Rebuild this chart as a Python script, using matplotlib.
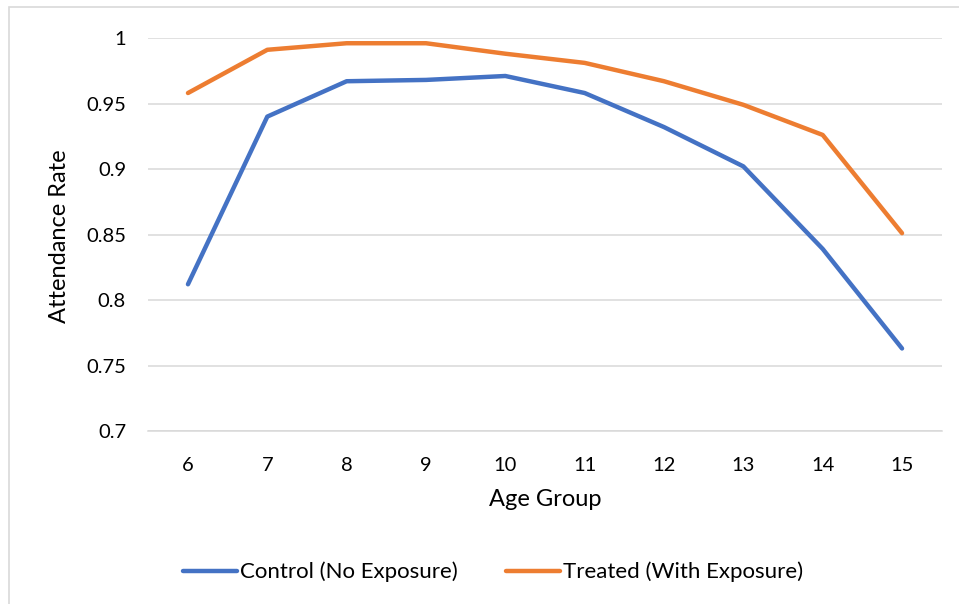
import matplotlib
matplotlib.use("Agg")
import matplotlib.pyplot as plt
from matplotlib.patches import Rectangle

# Attendance rate by age group
age_groups = [6, 7, 8, 9, 10, 11, 12, 13, 14, 15]
control = [0.812, 0.940, 0.967, 0.968, 0.971, 0.958, 0.932, 0.902, 0.839, 0.763]
treated = [0.958, 0.991, 0.996, 0.996, 0.988, 0.981, 0.967, 0.949, 0.926, 0.851]
series_names = ["Control (No Exposure)", "Treated (With Exposure)"]
y_ticks = [0.7, 0.75, 0.8, 0.85, 0.9, 0.95, 1.0]
y_tick_labels = ["0.7", "0.75", "0.8", "0.85", "0.9", "0.95", "1"]

plt.rcParams["font.family"] = ["Lato", "DejaVu Sans"]
TICK_FS = 14.5
TITLE_FS = 17
LEGEND_FS = 16

W, H = 959, 604
fig = plt.figure(figsize=(W / 100, H / 100), dpi=100)
fig.patch.set_facecolor("white")

# chart-area border
fig.patches.append(Rectangle((9 / W, -0.05), 1.2, 1 - 7 / H + 0.05,
                             transform=fig.transFigure, fill=False,
                             edgecolor="#d9d9d9", linewidth=1.2))

left, right, top, bottom = 148.3, 941.7, 38, 431
ax = fig.add_axes([left / W, 1 - bottom / H, (right - left) / W, (bottom - top) / H])

positions = list(range(len(age_groups)))
ax.plot(positions, control, color="#4472C4", lw=3.2, solid_capstyle="round",
        solid_joinstyle="round", label=series_names[0], zorder=3)
ax.plot(positions, treated, color="#ED7D31", lw=3.2, solid_capstyle="round",
        solid_joinstyle="round", label=series_names[1], zorder=3)

ax.set_xlim(-0.5, len(age_groups) - 0.5)
ax.set_ylim(0.7, 1.0)
ax.set_xticks(positions)
ax.set_xticklabels([str(a) for a in age_groups])
ax.set_yticks(y_ticks)
ax.set_yticklabels(y_tick_labels)
ax.tick_params(axis="both", length=0, labelsize=TICK_FS, colors="black")
ax.tick_params(axis="x", pad=19)
ax.tick_params(axis="y", pad=16)

ax.grid(axis="y", color="#d9d9d9", linewidth=1.1, zorder=0)
ax.set_axisbelow(True)
for side in ["top", "right", "left"]:
    ax.spines[side].set_visible(False)
ax.spines["bottom"].set_color("#d9d9d9")
ax.spines["bottom"].set_linewidth(1.1)

fig.text(60 / W, 1 - 236 / H, "Attendance Rate", rotation=90, ha="center",
         va="center", fontsize=TITLE_FS, color="black")
fig.text(545 / W, 1 - 500 / H, "Age Group", ha="center", va="center",
         fontsize=TITLE_FS, color="black")

fig.legend(loc="center", bbox_to_anchor=(493 / W, 1 - 572 / H), ncol=2,
           frameon=False, fontsize=LEGEND_FS, handlelength=2.45,
           handletextpad=0.14, columnspacing=2.15)

fig.savefig("out.png", dpi=100, facecolor="white")
